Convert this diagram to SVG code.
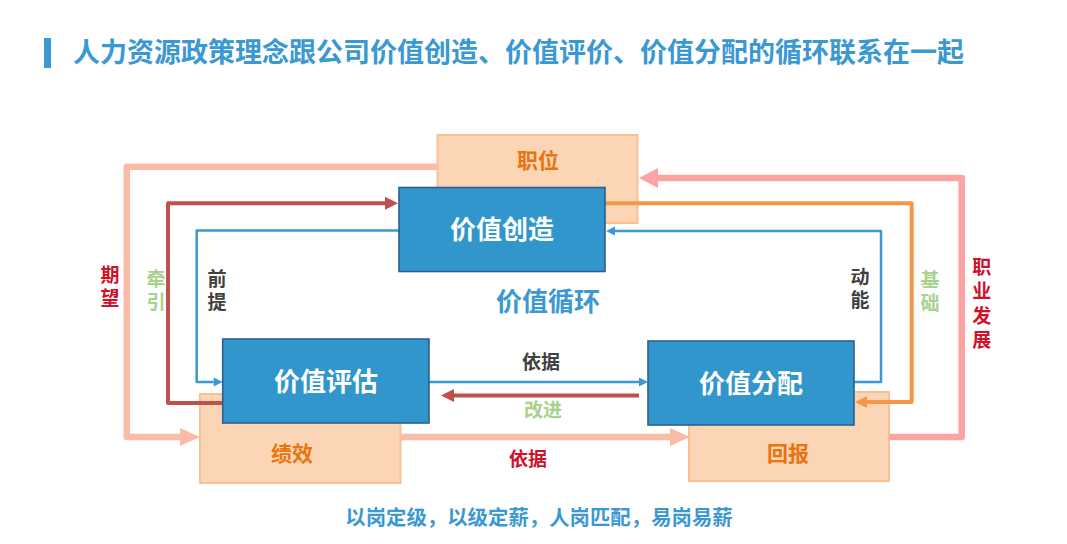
<svg xmlns="http://www.w3.org/2000/svg" width="1067" height="544" viewBox="0 0 1067 544">
<style>
text{font-family:"Noto Sans CJK SC","Noto Sans",sans-serif;font-weight:bold;}
.t{fill:#3A98D2;font-size:27px;}
.bx{fill:#3096CC;stroke:#2C5F93;stroke-width:1.6;}
.ob{fill:#FCD5B5;stroke:#FAC08F;stroke-width:2;}
.bl{fill:#FFFFFF;font-size:26px;text-anchor:middle;}
.ol{fill:#E8730F;font-size:21px;text-anchor:middle;}
.lb{font-size:19px;text-anchor:middle;}
.v{font-size:19px;writing-mode:vertical-rl;text-orientation:upright;letter-spacing:4.5px;}
.dk{fill:#404040;}
.gr{fill:#A9D18E;}
.rd{fill:#D0112B;}
.bt{fill:#3A98D2;font-size:20.4px;text-anchor:middle;}
.c{fill:none;stroke-linejoin:round;}
</style>
<defs>
<marker id="mSal" markerUnits="userSpaceOnUse" markerWidth="30" markerHeight="30" refX="0" refY="0" viewBox="-1 -15 30 30" orient="auto" overflow="visible"><path d="M0,-9 L20,0 L0,9 z" fill="#FBBBA6"/></marker>
<marker id="mPink" markerUnits="userSpaceOnUse" markerWidth="30" markerHeight="30" refX="0" refY="0" viewBox="-1 -15 30 30" orient="auto" overflow="visible"><path d="M0,-10 L19,0 L0,10 z" fill="#FCA3A3"/></marker>
<marker id="mRed" markerUnits="userSpaceOnUse" markerWidth="30" markerHeight="30" refX="0" refY="0" viewBox="-1 -15 30 30" orient="auto" overflow="visible"><path d="M0,-6.5 L13,0 L0,6.5 z" fill="#C0504D"/></marker>
<marker id="mOr" markerUnits="userSpaceOnUse" markerWidth="30" markerHeight="30" refX="0" refY="0" viewBox="-1 -15 30 30" orient="auto" overflow="visible"><path d="M0,-6 L12,0 L0,6 z" fill="#F79646"/></marker>
<marker id="mBl" markerUnits="userSpaceOnUse" markerWidth="30" markerHeight="30" refX="0" refY="0" viewBox="-1 -15 30 30" orient="auto" overflow="visible"><path d="M0,-4.5 L9,0 L0,4.5 z" fill="#3A98D2"/></marker>
</defs>
<rect width="1067" height="544" fill="#FFFFFF"/>
<g id="title">
<rect x="44" y="38" width="7" height="30" fill="#3A98D2"/>
<text class="t" x="73" y="62">人力资源政策理念跟公司价值创造、价值评价、价值分配的循环联系在一起</text>
</g>
<g id="node-zhiwei"><rect class="ob" x="437.5" y="135" width="200" height="88"/><text class="ol" x="538" y="168">职位</text></g>
<g id="node-jixiao"><rect class="ob" x="200" y="394" width="200.5" height="89"/><text class="ol" x="292" y="461">绩效</text></g>
<g id="node-huibao"><rect class="ob" x="689" y="392" width="200" height="89"/><text class="ol" x="788" y="461">回报</text></g>
<g id="connectors">
<path class="c" d="M437.5,166.7 H126.8 V437 H180" stroke="#FBBBA6" stroke-width="6.5" marker-end="url(#mSal)"/>
<path class="c" d="M400.5,437 H670" stroke="#FBBBA6" stroke-width="6.5" marker-end="url(#mSal)"/>
<path class="c" d="M889,437 H961.7 V178 H658" stroke="#FCA3A3" stroke-width="6.5" marker-end="url(#mPink)"/>
<path class="c" d="M222.7,403 H168 V203.3 H385" stroke="#C0504D" stroke-width="4" marker-end="url(#mRed)"/>
<path class="c" d="M639,395.5 H454" stroke="#C0504D" stroke-width="4" marker-end="url(#mRed)"/>
<path class="c" d="M605,203.3 H911.7 V402 H867" stroke="#F79646" stroke-width="4" marker-end="url(#mOr)"/>
<path class="c" d="M399,230.5 H196.7 V382 H213.7" stroke="#3A98D2" stroke-width="2.5" marker-end="url(#mBl)"/>
<path class="c" d="M854,382 H881 V231 H615" stroke="#3A98D2" stroke-width="2.5" marker-end="url(#mBl)"/>
<path class="c" d="M429,382 H639" stroke="#3A98D2" stroke-width="2.5" marker-end="url(#mBl)"/>
</g>
<g id="node-chuangzao"><rect class="bx" x="399" y="187.5" width="206" height="84"/><text class="bl" x="502" y="239">价值创造</text></g>
<g id="node-pinggu"><rect class="bx" x="222.7" y="339" width="206.3" height="84"/><text class="bl" x="326" y="391">价值评估</text></g>
<g id="node-fenpei"><rect class="bx" x="648" y="341" width="206" height="84"/><text class="bl" x="751" y="393">价值分配</text></g>
<g id="labels">
<text class="v rd" x="110" y="265">期望</text>
<text class="v gr" x="156" y="269">牵引</text>
<text class="v dk" x="217" y="269">前提</text>
<text class="v dk" x="860" y="267">动能</text>
<text class="v gr" x="930" y="270">基础</text>
<text class="v rd" x="981.7" y="257" style="letter-spacing:5.4px">职业发展</text>
<text x="548" y="311" style="fill:#3A98D2;font-size:26px;text-anchor:middle">价值循环</text>
<text class="lb dk" x="541" y="369">依据</text>
<text class="lb gr" x="543" y="417">改进</text>
<text class="lb rd" x="528" y="466">依据</text>
<text class="bt" x="539" y="525">以岗定级，以级定薪，人岗匹配，易岗易薪</text>
</g>
</svg>
